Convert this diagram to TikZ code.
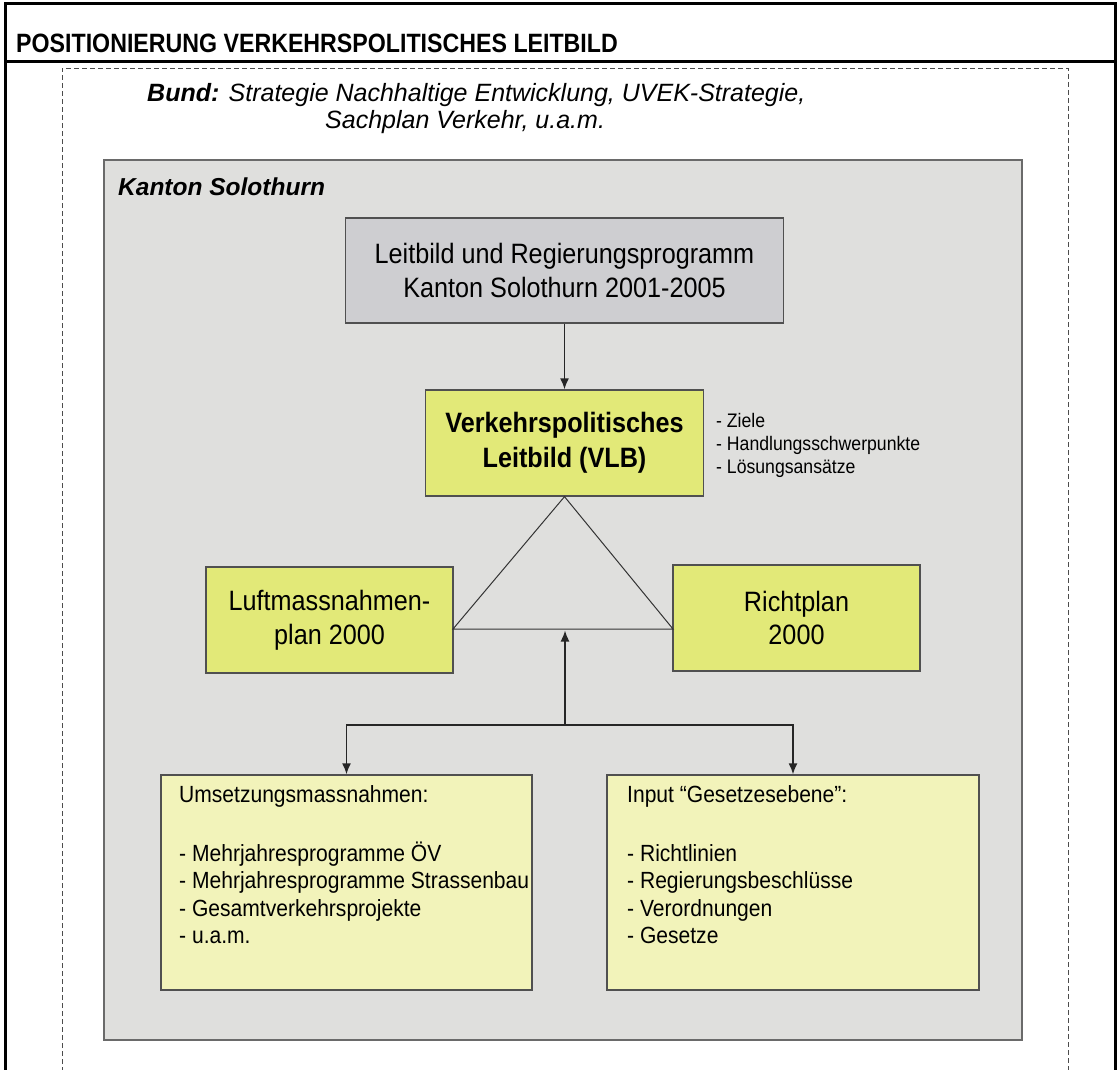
\documentclass[tikz,border=0pt]{standalone}
\usepackage{fontspec}
\setmainfont{Liberation Sans}
\newfontfamily\narrowfont[FakeStretch=0.9]{Liberation Sans}
\newfontfamily\titlefont[FakeStretch=0.875]{Liberation Sans}
\usepackage{tikz}
\usetikzlibrary{arrows.meta}

\definecolor{kantongrey}{HTML}{DFDFDD}
\definecolor{leitgrey}{HTML}{CECED1}
\definecolor{vlbgreen}{HTML}{E2E978}
\definecolor{massyellow}{HTML}{F2F3BA}
\definecolor{boxline}{HTML}{505050}

\tikzset{
  box/.style={draw=boxline, line width=1.3pt, inner sep=0pt},
  bigtext/.style={font=\narrowfont\fontsize{28}{33.5}\selectfont, align=center},
  listtext/.style={font=\narrowfont\fontsize{23.4}{27.7}\selectfont, anchor=base west, inner sep=0pt},
  arr/.style={-{Latex[length=11pt,width=9pt]}, line width=1.6pt, draw=black!85},
}

\begin{document}
\begin{tikzpicture}[x=1pt,y=-1pt]
  \useasboundingbox (0,0) rectangle (1119,1070);
  \fill[white] (0,0) rectangle (1119,1070);

  % frame and heading
  \draw[line width=3pt] (5,1072) -- (5,3.5) -- (1115.5,3.5) -- (1115.5,1072);
  \draw[line width=3pt] (5,62) -- (1115.5,62);
  \draw[line width=0.8pt, black!70, dash pattern=on 5pt off 3pt] (62,1072) -- (62,68) -- (1068,68) -- (1068,1072);
  \draw (16,52.7) node[anchor=base west, inner sep=0pt] (title) {\titlefont\bfseries\fontsize{26.5}{30}\selectfont POSITIONIERUNG VERKEHRSPOLITISCHES LEITBILD};

  \draw (147,102) node[anchor=base west, inner sep=0pt] (bund) {\fontsize{25}{29}\selectfont\itshape\bfseries Bund:\mdseries{} Strategie Nachhaltige Entwicklung, UVEK-Strategie,};
  \draw (325,129) node[anchor=base west, inner sep=0pt] (sachplan) {\fontsize{25}{29}\selectfont\itshape Sachplan Verkehr, u.a.m.};

  % Kanton
  \draw (563,600) node[box, draw=boxline!85, fill=kantongrey, minimum width=918, minimum height=880] (kanton) {};
  \draw (118,195) node[anchor=base west, inner sep=0pt] (kantonlabel) {\fontsize{24.5}{29}\selectfont\bfseries\itshape Kanton Solothurn};

  \draw (564.5,270.5) node[box, fill=leitgrey, minimum width=438, minimum height=105, bigtext] (leitbild) {Leitbild und Regierungsprogramm\\Kanton Solothurn 2001-2005};
  \draw (564.5,443) node[box, fill=vlbgreen, minimum width=278, minimum height=106, bigtext, font=\narrowfont\bfseries\fontsize{28}{35}\selectfont] (vlb) {Verkehrspolitisches\\Leitbild (VLB)};
  \foreach \item/\y in {Ziele/427, Handlungsschwerpunkte/450, L\"osungsans\"atze/473}
    \draw (716,\y) node[anchor=base west, inner sep=0pt, font=\narrowfont\fontsize{19.6}{23}\selectfont] {- \item};

  \draw (329.5,620) node[box, fill=vlbgreen, minimum width=247, minimum height=106, bigtext, font=\narrowfont\fontsize{28}{34}\selectfont] (luft) {Luftmassnahmen-\\plan 2000};
  \draw (796.5,618) node[box, fill=vlbgreen, minimum width=247, minimum height=106, bigtext, font=\narrowfont\fontsize{28}{33}\selectfont] (richtplan) {Richtplan\\2000};

  \draw (346.5,882.5) node[box, fill=massyellow, minimum width=371, minimum height=215] (umsetzung) {};
  \draw (793,882.5) node[box, fill=massyellow, minimum width=372, minimum height=215] (input) {};
  \draw (179,802) node[listtext] (umsetzunghead) {Umsetzungsmassnahmen:};
  \foreach \item/\y in {Mehrjahresprogramme \"OV/861, Mehrjahresprogramme Strassenbau/888.5, Gesamtverkehrsprojekte/916, u.a.m./943.5}
    \draw (179,\y) node[listtext] {- \item};
  \draw (627,802) node[listtext] (inputhead) {Input \textquotedblleft Gesetzesebene\textquotedblright:};
  \foreach \item/\y in {Richtlinien/861, Regierungsbeschl\"usse/888.5, Verordnungen/916, Gesetze/943.5}
    \draw (627,\y) node[listtext] {- \item};

  % connectors
  \coordinate (triL) at (453,629);
  \coordinate (triR) at (673,629);
  \coordinate (fork) at (565,725);
  \coordinate (basemid) at (565,630.5);
  \draw[line width=1pt, black!80] (vlb.south) -- (triL) -- (triR) -- cycle;
  \draw[arr] (leitbild) -- (vlb);
  \draw[arr] (fork) -- (basemid);
  \draw[arr] (fork) -| (umsetzung.north);
  \draw[arr] (fork) -| (input.north);
\end{tikzpicture}
\end{document}
